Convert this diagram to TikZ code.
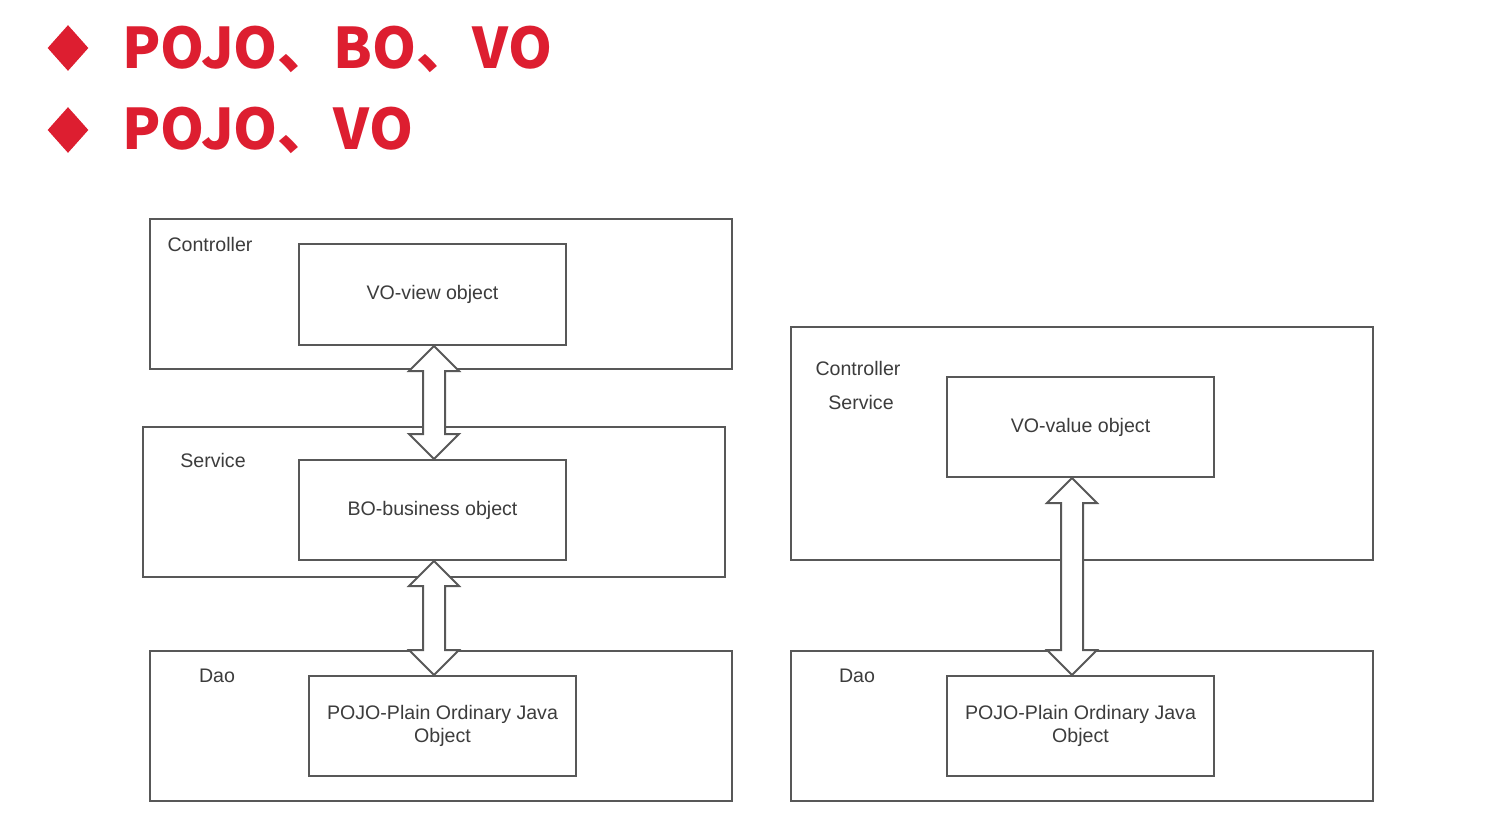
\documentclass[tikz,border=0pt]{standalone}
\usepackage{fontspec}
\setmainfont{Liberation Sans}
\newfontfamily\cjk{Noto Sans CJK SC}
\usetikzlibrary{calc,shapes.geometric}

\definecolor{jred}{RGB}{221,30,48}
\definecolor{lgray}{RGB}{88,88,88}
\definecolor{tgray}{RGB}{60,60,60}

% fat hollow double arrow: [x shift] {top anchor} {bottom anchor}
\newcommand{\fatarrow}[3][0]{%
\draw[fat] ($(#2)+(#1,0)$) coordinate (t) -- ++(-25,25) -- ++(14,0)
  -- ($(t |- #3)+(-11,-25)$) -- ++(-14,0) -- (t |- #3) -- ++(25,-25)
  -- ++(-14,0) -- ($(t)+(11,25)$) -- ++(14,0) -- cycle;}

\begin{document}
\begin{tikzpicture}[x=0.5pt,y=-0.5pt,
  layer/.style={draw=lgray,line width=1pt,inner sep=0pt},
  obj/.style={draw=lgray,line width=1pt,inner sep=0pt,text=tgray,align=center,
    font=\fontsize{9.8}{11.5}\selectfont},
  lbl/.style={text=tgray,font=\fontsize{9.8}{11.5}\selectfont},
  fat/.style={draw=lgray,line width=1pt,fill=white,line join=miter},
  bullet/.style={diamond,fill=jred,inner sep=0pt,minimum width=20.5pt,minimum height=23pt},
  title/.style={anchor=base west,text=jred,font=\cjk\bfseries\fontsize{28}{32}\selectfont}]
\useasboundingbox (0,0) rectangle (1498,830);

% title
\node[bullet] (d1) at (68,48) {};
\node[bullet] (d2) at (68,130) {};
\node[title] (t1) at (115,68) {POJO、BO、VO};
\node[title] (t2) at (115,149) {POJO、VO};

% left: three layers
\node[layer,minimum width=291pt,minimum height=75pt] (ctrl) at (441,294) {};
\node[layer,minimum width=291pt,minimum height=75pt] (svc) at (434,502) {};
\node[layer,minimum width=291pt,minimum height=75pt] (dao) at (441,726) {};
\node[lbl] (ctrlL) at (210,244) {Controller};
\node[lbl] (svcL) at (213,460) {Service};
\node[lbl] (daoL) at (217,676) {Dao};
\node[obj,minimum width=133.5pt,minimum height=50.5pt] (vo) at (432.5,294.5) {VO-view object};
\node[obj,minimum width=133.5pt,minimum height=50pt] (bo) at (432.5,510) {BO-business object};
\node[obj,minimum width=133.5pt,minimum height=50pt] (pojo) at (442.5,726) {POJO-Plain Ordinary Java\\Object};

\fatarrow[1.5]{vo.south}{bo.north}
\fatarrow[1.5]{bo.south}{pojo.north}

% right: two layers
\node[layer,minimum width=291pt,minimum height=116.5pt] (cs) at (1082,443.5) {};
\node[layer,minimum width=291pt,minimum height=75pt] (daoR) at (1082,726) {};
\node[lbl] (csL1) at (858,368) {Controller};
\node[lbl] (csL2) at (861,402) {Service};
\node[lbl] (daoRL) at (857,676) {Dao};
\node[obj,minimum width=133.5pt,minimum height=50pt] (vv) at (1080.5,427) {VO-value object};
\node[obj,minimum width=133.5pt,minimum height=50pt] (pojoR) at (1080.5,726) {POJO-Plain Ordinary Java\\Object};

\fatarrow[-8.5]{vv.south}{pojoR.north}
\end{tikzpicture}
\end{document}
